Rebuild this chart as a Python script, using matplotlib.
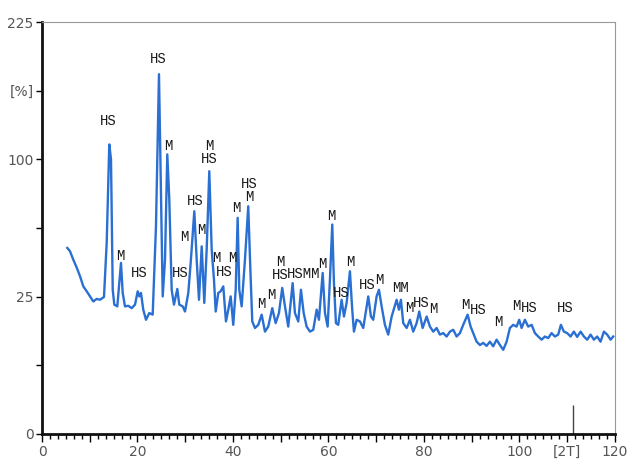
import numpy as np
import matplotlib
matplotlib.use("Agg")
import matplotlib.pyplot as plt
from matplotlib.ticker import MultipleLocator, FixedLocator, FixedFormatter

# 2theta (deg) aur intensity (%) - picture se padhe hue points
two_theta = [5.30, 5.86, 6.55, 7.27, 7.96, 8.65, 9.36, 10.05, 10.74, 11.46, 12.15, 12.98,
             13.55, 14.09, 14.45, 14.81, 15.14, 15.77, 16.54, 16.90, 17.38, 18.07, 18.79,
             19.48, 20.04, 20.38, 20.73, 21.21, 21.78, 22.47, 23.18, 23.87, 24.50, 24.92,
             25.28, 25.76, 26.24, 26.66, 27.16, 27.64, 28.34, 28.75, 29.47, 29.95, 30.64,
             31.14, 31.90, 32.40, 32.88, 33.45, 33.99, 34.49, 35.04, 35.54, 36.02, 36.38,
             36.92, 37.42, 37.97, 38.53, 39.02, 39.52, 40.06, 40.57, 40.98, 41.32, 41.82,
             42.51, 43.20, 43.62, 44.04, 44.61, 45.30, 46.01, 46.70, 47.39, 48.23, 48.94,
             49.63, 50.32, 50.89, 51.58, 52.50, 52.98, 53.68, 54.24, 54.81, 55.43, 56.13,
             56.82, 57.53, 58.01, 58.79, 59.27, 59.83, 60.31, 60.80, 61.15, 61.57, 62.05,
             62.76, 63.25, 63.81, 64.50, 64.98, 65.34, 65.91, 66.60, 67.29, 68.34, 68.90,
             69.38, 70.09, 70.58, 71.14, 71.83, 72.52, 73.24, 74.28, 74.76, 75.18, 75.67,
             76.38, 77.07, 77.76, 78.47, 79.02, 79.73, 80.57, 81.26, 81.95, 82.66, 83.35,
             84.04, 84.75, 85.45, 86.14, 86.85, 87.54, 88.23, 89.15, 89.78, 90.32, 91.04,
             91.73, 92.42, 93.13, 93.82, 94.51, 95.22, 95.92, 96.61, 97.32, 98.01, 98.70,
             99.41, 99.96, 100.46, 101.15, 101.84, 102.56, 103.25, 103.94, 104.65, 105.34,
             106.03, 106.74, 107.43, 108.13, 108.69, 109.32, 110.01, 110.72, 111.41, 112.10,
             112.82, 113.51, 114.20, 114.91, 115.60, 116.29, 117.00, 117.70, 118.39, 119.10,
             119.65]
intensity = [45.9, 44.3, 40.3, 36.7, 33.0, 28.9, 27.0, 25.1, 23.3, 24.2, 23.9, 24.9,
             48.6, 111.2, 100.0, 27.6, 22.2, 21.6, 38.8, 26.4, 21.6, 21.8, 21.0,
             22.2, 27.0, 25.1, 26.4, 20.5, 17.3, 19.4, 18.9, 57.2, 171.7, 77.2,
             25.1, 40.3, 103.7, 72.9, 27.6, 22.2, 27.9, 22.2, 21.6, 19.9, 26.4,
             38.8, 65.8, 40.3, 23.9, 46.7, 22.8, 45.1, 91.6, 45.1, 31.6, 19.9,
             26.4, 27.0, 28.9, 16.8, 20.5, 25.1, 15.8, 27.6, 62.0, 27.6, 21.6,
             40.3, 68.8, 37.3, 16.8, 14.9, 15.8, 18.9, 13.9, 15.3, 21.0, 16.3,
             19.4, 28.3, 21.6, 15.3, 30.2, 19.4, 16.8, 27.6, 19.4, 15.3, 13.9,
             14.4, 20.5, 17.3, 34.4, 19.4, 15.3, 31.6, 58.2, 30.2, 16.3, 15.8,
             23.9, 18.3, 22.8, 35.1, 20.5, 13.9, 17.3, 16.8, 14.9, 25.1, 18.3,
             17.3, 25.1, 27.6, 21.6, 15.8, 13.1, 18.3, 23.9, 20.5, 23.9, 16.3,
             14.9, 17.3, 13.9, 16.3, 19.9, 14.9, 18.3, 15.3, 13.9, 14.9, 13.1,
             13.5, 12.6, 13.9, 14.4, 12.6, 13.5, 15.8, 18.9, 15.3, 13.5, 11.3,
             10.5, 11.0, 10.3, 11.3, 10.2, 11.8, 10.5, 9.4, 11.3, 14.9, 15.8,
             15.3, 17.3, 14.9, 17.3, 15.3, 15.8, 13.5, 12.6, 11.8, 12.6,
             12.2, 13.5, 12.6, 13.1, 15.8, 13.9, 13.5, 12.6, 13.9, 12.5,
             13.9, 12.6, 11.8, 13.1, 11.8, 12.6, 11.3, 13.9, 13.1, 11.8,
             12.6]

# peak labels (HS / M) - position aur text
label_x = [13.8, 16.5, 20.3, 24.3, 26.4, 28.9, 29.9, 32.0, 33.3, 35.0, 36.6, 38.1,
           39.8, 40.8, 43.4, 45.9, 48.0, 50.0, 54.9, 58.8, 60.7, 62.6, 64.5, 68.1,
           70.6, 75.0, 76.9, 79.4, 81.9, 88.6, 91.3, 95.5, 99.3, 102.0, 109.7]
label_y = [129.6, 42.2, 34.5, 186.3, 109.7, 34.5, 51.7, 72.3, 55.4, 104.8, 41.3, 35.0,
           41.3, 68.0, 78.6, 22.5, 25.7, 36.3, 34.1, 38.5, 63.3, 26.5, 39.4, 29.6,
           31.6, 28.4, 21.1, 22.9, 20.8, 22.2, 20.5, 16.7, 21.8, 21.1, 21.1]
label_txt = ["HS", "M", "HS", "HS", "M", "HS", "M", "HS", "M", "M\nHS", "M", "HS",
             "M", "M", "HS\nM", "M", "M", "M\nHS", "HSMM", "M", "M", "HS", "M", "HS",
             "M", "MM", "M", "HS", "M", "M", "HS", "M", "M", "HS", "HS"]

y_ticks = [0, 6.25, 25, 56.25, 100, 156.25, 225]
y_ticklabels = ["0", "", "25", "", "100", "[%]", "225"]
x_ticks = [0, 10, 20, 30, 40, 50, 60, 70, 80, 90, 100, 110, 120]
x_ticklabels = ["0", "", "20", "", "40", "", "60", "", "80", "", "100", "[2T]", "120"]

marker_2t = 111.2
marker_height = 1.1

fig = plt.figure(figsize=(6.3, 4.61), dpi=100)
ax = fig.add_axes([0.0667, 0.0586, 0.9093, 0.8934])

# y axis sqrt scale pe hai
ax.set_yscale("function", functions=(lambda v: np.sqrt(np.clip(v, 0, None)), np.square))

ax.plot(two_theta, intensity, color="#2a6fd2", lw=1.7)
ax.vlines(marker_2t, 0, marker_height, color="#444444", lw=1)

for x, y, t in zip(label_x, label_y, label_txt):
    ax.text(x, y, t, ha="center", va="center", fontsize=10, family="Liberation Mono",
            color="#1a1a1a", linespacing=0.9)

ax.set_xlim(0, 120)
ax.set_ylim(0, 225)

ax.yaxis.set_major_locator(FixedLocator(y_ticks))
ax.yaxis.set_major_formatter(FixedFormatter(y_ticklabels))
ax.xaxis.set_major_locator(FixedLocator(x_ticks))
ax.xaxis.set_major_formatter(FixedFormatter(x_ticklabels))
ax.xaxis.set_minor_locator(MultipleLocator(20 / 12))

ax.tick_params(axis="y", length=4, width=1, pad=2, labelsize=10, labelcolor="#555555")
ax.tick_params(axis="x", which="major", length=6, width=1, pad=2, labelsize=10,
               labelcolor="#555555")
ax.tick_params(axis="x", which="minor", length=3.5, width=1)

for s in ["left", "bottom"]:
    ax.spines[s].set_linewidth(2)
    ax.spines[s].set_color("#111111")
for s in ["top", "right"]:
    ax.spines[s].set_linewidth(0.8)
    ax.spines[s].set_color("#999999")

plt.savefig("out.png", dpi=100)
